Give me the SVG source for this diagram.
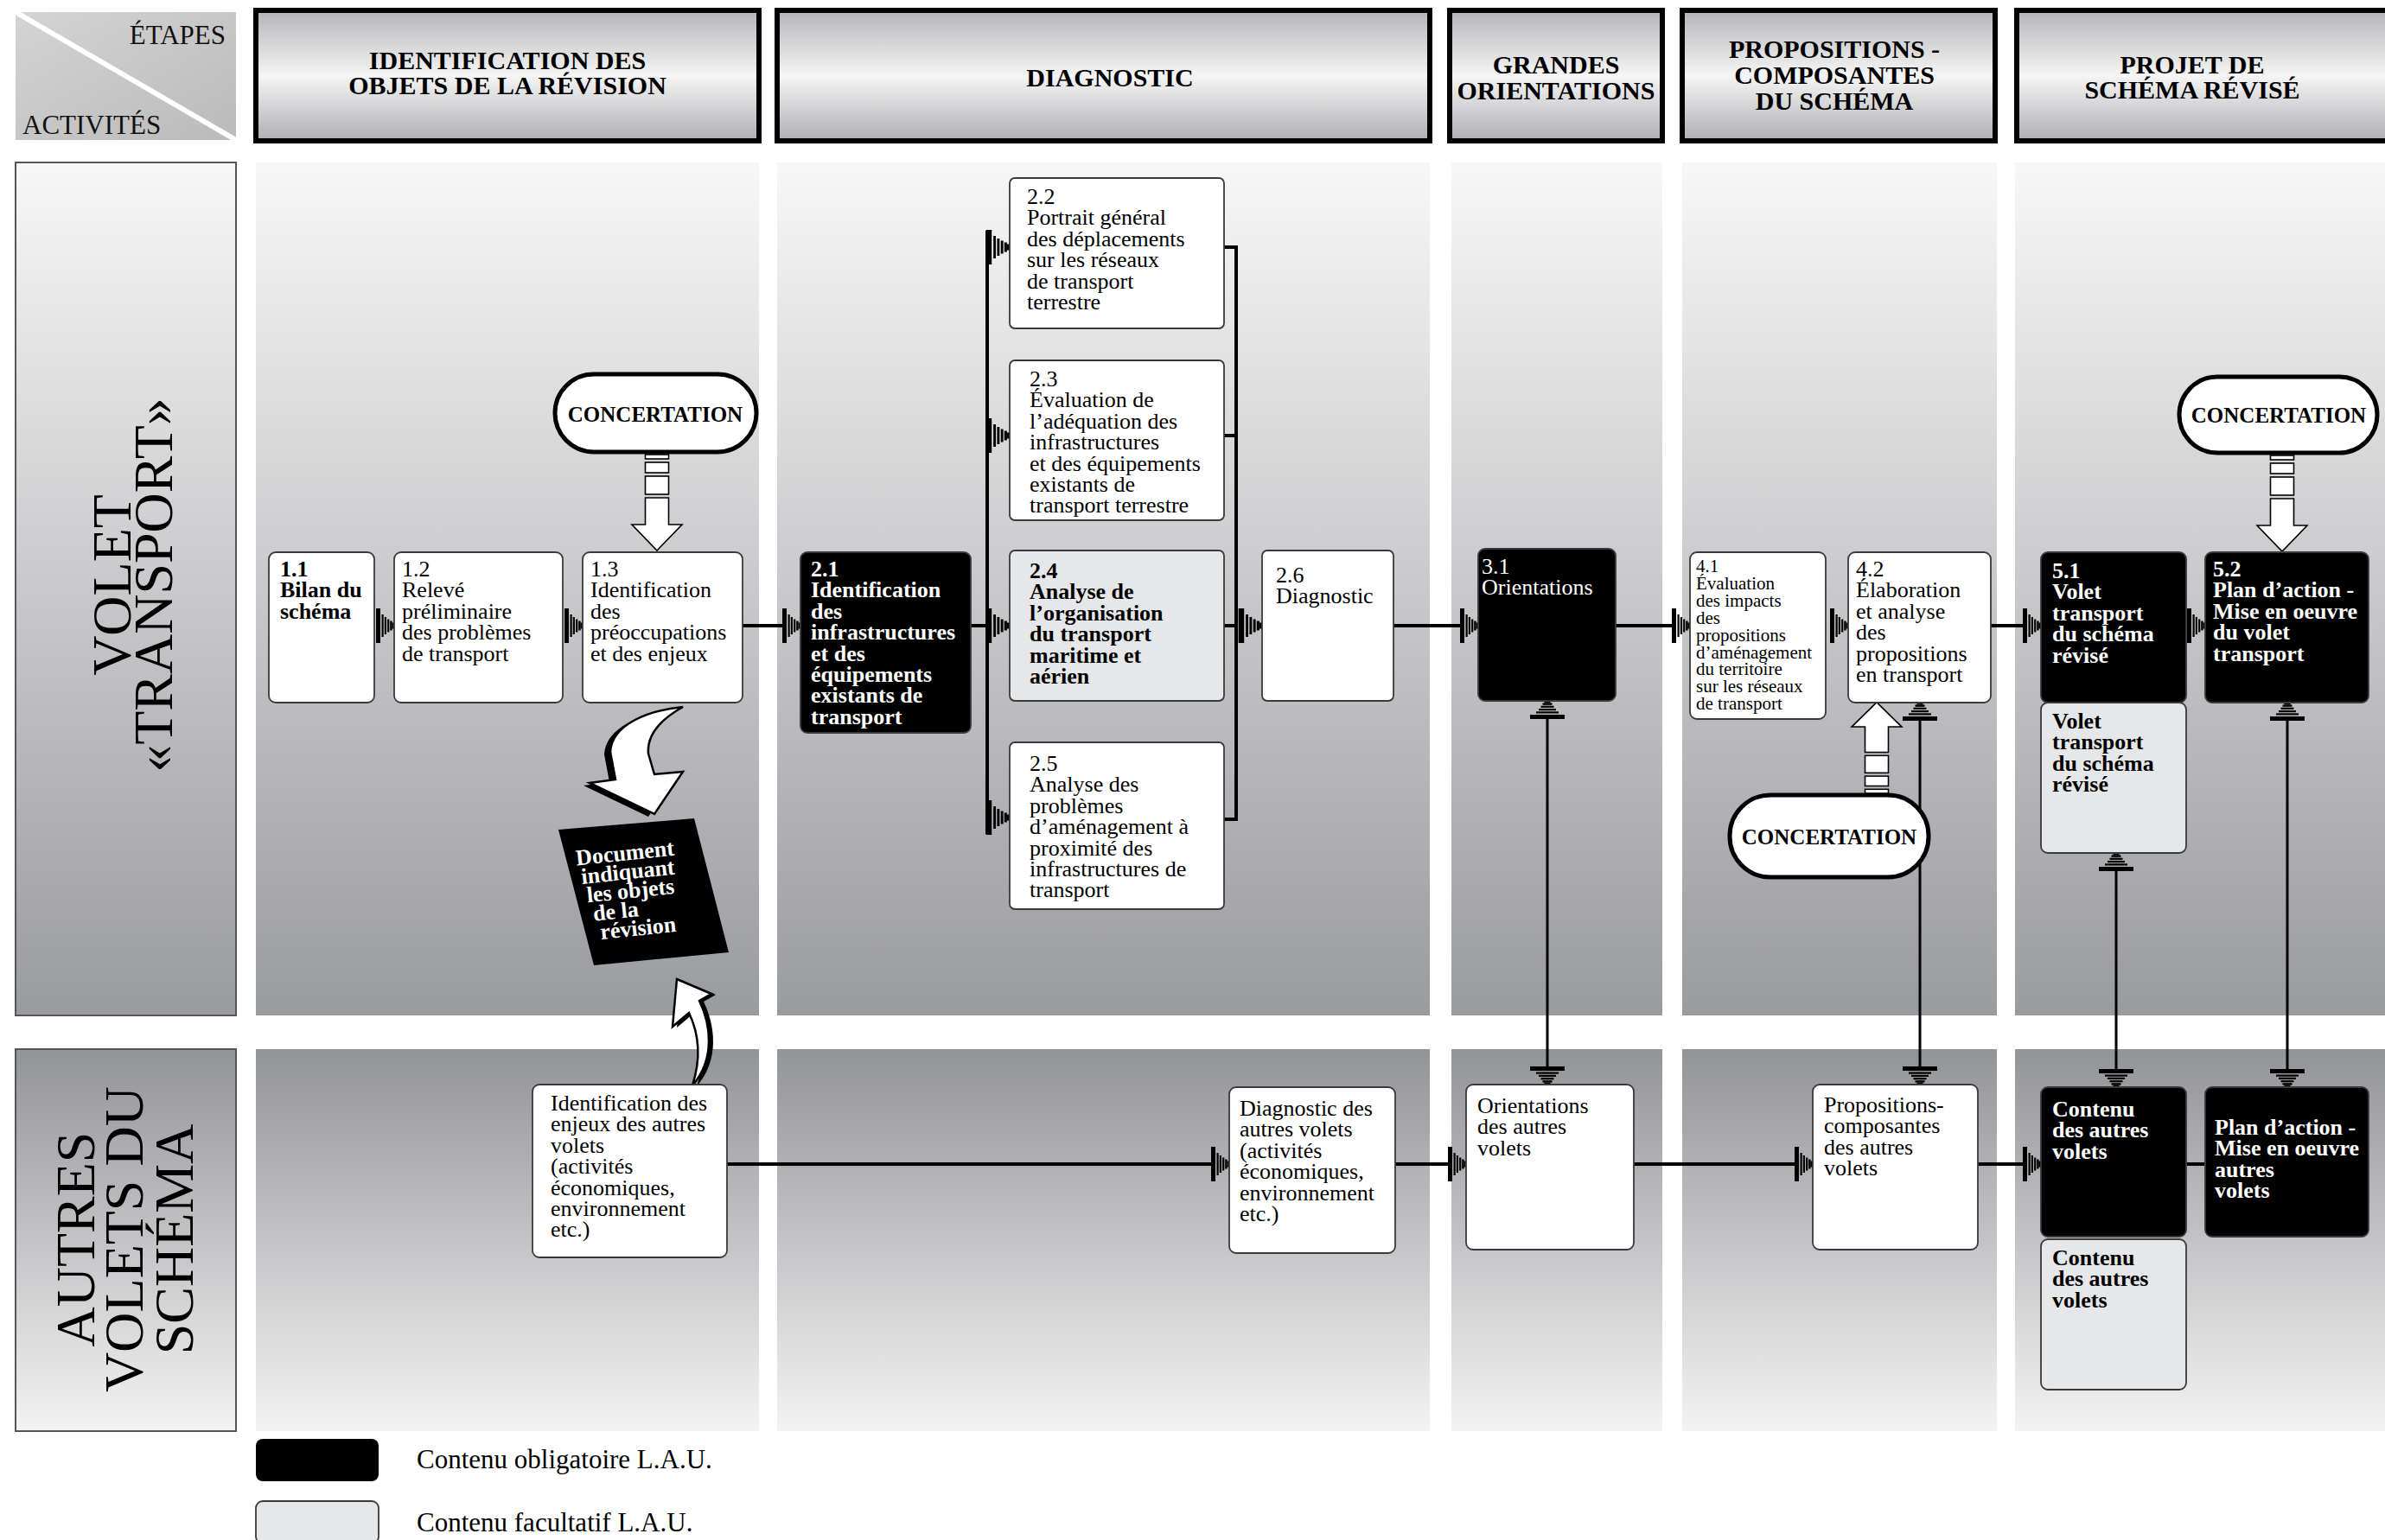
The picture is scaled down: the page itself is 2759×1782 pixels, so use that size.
<svg xmlns="http://www.w3.org/2000/svg" xmlns:xlink="http://www.w3.org/1999/xlink" width="2759" height="1782" viewBox="0 0 2759 1782">
<style>
.nt{font-family:"Liberation Serif",serif;font-size:26px;fill:#000}
.sm{font-size:21px}
.b{font-weight:bold}
.w{fill:#fff}
.box{stroke:#3a3a3a;stroke-width:1.8}
.white{fill:#fff}.black{fill:#000}.light{fill:#e6e7e8}
.ln{stroke:#000;stroke-width:4;fill:none}
.vln{stroke:#000;stroke-width:3;fill:none}
.hdr{font-family:"Liberation Serif",serif;font-weight:bold;font-size:30px;text-anchor:middle;fill:#000}
.hbox{fill:url(#hdrG);stroke:#000;stroke-width:6}
.lane{font-family:"Liberation Serif",serif;font-size:64px;text-anchor:middle;fill:#000}
.pill{fill:#fff;stroke:#000;stroke-width:5}
.pt{font-family:"Liberation Serif",serif;font-weight:bold;font-size:25px;text-anchor:middle}
.ba{fill:#fff;stroke:#000;stroke-width:1.6}
.leg{font-family:"Liberation Serif",serif;font-size:31px;fill:#000}
</style>
<defs>
<linearGradient id="hdrG" x1="0" y1="0" x2="0" y2="1"><stop offset="0" stop-color="#b3b4b7"/><stop offset="0.5" stop-color="#f5f5f5"/><stop offset="1" stop-color="#aeafb2"/></linearGradient>
<linearGradient id="topG" x1="0" y1="0" x2="0" y2="1"><stop offset="0" stop-color="#f7f7f7"/><stop offset="1" stop-color="#9a9b9f"/></linearGradient>
<linearGradient id="botG" x1="0" y1="0" x2="0" y2="1"><stop offset="0" stop-color="#939498"/><stop offset="1" stop-color="#f3f3f3"/></linearGradient>
<linearGradient id="cornG" x1="0" y1="0" x2="1" y2="1"><stop offset="0" stop-color="#d4d4d4"/><stop offset="1" stop-color="#bababa"/></linearGradient>
<g id="comb"><rect x="-21" y="-20" width="5" height="40"/><rect x="-14.5" y="-13" width="2.2" height="26"/><rect x="-11.2" y="-10" width="2.2" height="20"/><rect x="-7.9" y="-7.5" width="2.2" height="15"/><rect x="-4.8" y="-5.5" width="2.4" height="11"/><rect x="-2.5" y="-3.5" width="2.5" height="7"/></g>
<g id="barrow"><rect class="ba" x="-13.5" y="1" width="27" height="5"/><rect class="ba" x="-13.5" y="10" width="27" height="12"/><rect class="ba" x="-13.5" y="26" width="27" height="21"/><polygon class="ba" points="-13.5,51 13.5,51 13.5,82 29,82 0,112 -29,82 -13.5,82"/></g>
</defs>
<rect width="2759" height="1782" fill="#fff"/>

<g id="headers">
<g id="corner"><rect x="18" y="14" width="255" height="148" fill="url(#cornG)"/><line x1="18" y1="14" x2="273" y2="162" stroke="#fff" stroke-width="6"/>
<text x="261" y="51" font-family="Liberation Serif, serif" font-size="31" text-anchor="end" fill="#111">ÉTAPES</text>
<text x="26" y="155" font-family="Liberation Serif, serif" font-size="31" fill="#111">ACTIVITÉS</text></g>
<g id="h-ident"><rect class="hbox" x="296" y="12" width="582" height="151"/><text class="hdr" x="587" y="80">IDENTIFICATION DES</text><text class="hdr" x="587" y="109">OBJETS DE LA RÉVISION</text></g>
<g id="h-diag"><rect class="hbox" x="899" y="12" width="755" height="151"/><text class="hdr" x="1284" y="100">DIAGNOSTIC</text></g>
<g id="h-grandes"><rect class="hbox" x="1677" y="12" width="246" height="151"/><text class="hdr" x="1800" y="85">GRANDES</text><text class="hdr" x="1800" y="115">ORIENTATIONS</text></g>
<g id="h-prop"><rect class="hbox" x="1946" y="12" width="362" height="151"/><text class="hdr" x="2122" y="67">PROPOSITIONS -</text><text class="hdr" x="2122" y="97">COMPOSANTES</text><text class="hdr" x="2122" y="127">DU SCHÉMA</text></g>
<g id="h-projet"><rect class="hbox" x="2333" y="12" width="440" height="151"/><text class="hdr" x="2536" y="85">PROJET DE</text><text class="hdr" x="2536" y="114">SCHÉMA RÉVISÉ</text></g>
</g>

<g id="lanes">
<rect x="18" y="188" width="255" height="987" fill="url(#topG)" stroke="#555" stroke-width="2"/>
<rect x="18" y="1214" width="255" height="442" fill="url(#botG)" stroke="#555" stroke-width="2"/>
<text class="lane" transform="translate(151,677) rotate(-90)">VOLET</text>
<text class="lane" transform="translate(199,677) rotate(-90)">«TRANSPORT»</text>
<text class="lane" transform="translate(109,1434) rotate(-90)">AUTRES</text>
<text class="lane" transform="translate(165,1434) rotate(-90)">VOLETS DU</text>
<text class="lane" transform="translate(223,1434) rotate(-90)">SCHÉMA</text>
<g fill="url(#topG)">
<rect x="296" y="188" width="582" height="987"/><rect x="899" y="188" width="755" height="987"/><rect x="1679" y="188" width="244" height="987"/><rect x="1946" y="188" width="364" height="987"/><rect x="2331" y="188" width="428" height="987"/>
</g>
<g fill="url(#botG)">
<rect x="296" y="1214" width="582" height="442"/><rect x="899" y="1214" width="755" height="442"/><rect x="1679" y="1214" width="244" height="442"/><rect x="1946" y="1214" width="364" height="442"/><rect x="2331" y="1214" width="428" height="442"/>
</g>
</g>

<g id="connectors">
<use href="#comb" transform="translate(456,724)"/>
<use href="#comb" transform="translate(674,724)"/>
<line class="ln" x1="859" y1="724" x2="908" y2="724"/><use href="#comb" transform="translate(926,724)"/>
<line class="ln" x1="1123" y1="724" x2="1142" y2="724"/>
<line class="ln" x1="1142" y1="267" x2="1142" y2="965"/>
<use href="#comb" transform="translate(1168,286) scale(1.3,1)"/>
<use href="#comb" transform="translate(1168,504) scale(1.3,1)"/>
<use href="#comb" transform="translate(1168,724) scale(1.3,1)"/>
<use href="#comb" transform="translate(1168,946) scale(1.3,1)"/>
<line class="ln" x1="1416" y1="286" x2="1430" y2="286"/>
<line class="ln" x1="1416" y1="504" x2="1430" y2="504"/>
<line class="ln" x1="1416" y1="724" x2="1430" y2="724"/>
<line class="ln" x1="1416" y1="948" x2="1430" y2="948"/>
<line class="ln" x1="1430" y1="284" x2="1430" y2="950"/>
<use href="#comb" transform="translate(1460,724) scale(1.3,1)"/>
<line class="ln" x1="1612" y1="724" x2="1692" y2="724"/><use href="#comb" transform="translate(1710,724)"/>
<line class="ln" x1="1869" y1="724" x2="1937" y2="724"/><use href="#comb" transform="translate(1955,724)"/>
<use href="#comb" transform="translate(2138,724)"/>
<line class="ln" x1="2303" y1="724" x2="2343" y2="724"/><use href="#comb" transform="translate(2361,724)"/>
<use href="#comb" transform="translate(2551,724)"/>
<line class="vln" x1="1790" y1="829" x2="1790" y2="1237"/><use href="#comb" transform="translate(1790,811) rotate(-90)"/><use href="#comb" transform="translate(1790,1255) rotate(90)"/>
<line class="vln" x1="2221" y1="831" x2="2221" y2="1237"/><use href="#comb" transform="translate(2221,813) rotate(-90)"/><use href="#comb" transform="translate(2221,1255) rotate(90)"/>
<line class="vln" x1="2448" y1="1005" x2="2448" y2="1240"/><use href="#comb" transform="translate(2448,987) rotate(-90)"/><use href="#comb" transform="translate(2448,1258) rotate(90)"/>
<line class="vln" x1="2646" y1="831" x2="2646" y2="1240"/><use href="#comb" transform="translate(2646,813) rotate(-90)"/><use href="#comb" transform="translate(2646,1258) rotate(90)"/>
<line class="ln" x1="841" y1="1347" x2="1404" y2="1347"/><use href="#comb" transform="translate(1422,1347)"/>
<line class="ln" x1="1614" y1="1347" x2="1678" y2="1347"/><use href="#comb" transform="translate(1696,1347)"/>
<line class="ln" x1="1890" y1="1347" x2="2079" y2="1347"/><use href="#comb" transform="translate(2097,1347)"/>
<line class="ln" x1="2288" y1="1347" x2="2343" y2="1347"/><use href="#comb" transform="translate(2361,1347)"/>
<line class="ln" x1="2529" y1="1347" x2="2551" y2="1347"/>
<use href="#barrow" transform="translate(760,525)"/>
<use href="#barrow" transform="translate(2640,526)"/>
<use href="#barrow" transform="translate(2171,919) scale(1,-0.95)"/>
<g id="swoosh1"><path d="M790,818 C750,822 708,838 706,870 L712,902 L682,906 L757,942 L790,893 L757,896 L750,872 C748,850 765,832 790,818 Z" fill="#000" transform="translate(-7,3)"/><path d="M790,818 C750,822 708,838 706,870 L712,902 L682,906 L757,942 L790,893 L757,896 L750,872 C748,850 765,832 790,818 Z" fill="#fff" stroke="#000" stroke-width="2.5"/></g>
<g id="swoosh2"><path d="M783,1133 L823,1150 L809,1158 C822,1185 828,1225 801,1256 C812,1222 808,1195 797,1172 L778,1188 Z" fill="#000" transform="translate(5,1)"/><path d="M783,1133 L823,1150 L809,1158 C822,1185 828,1225 801,1256 C812,1222 808,1195 797,1172 L778,1188 Z" fill="#fff" stroke="#000" stroke-width="2.5"/></g>
</g>

<g id="concertation-1"><rect class="pill" x="642" y="433" width="233" height="90" rx="45"/><text class="pt" x="758" y="488">CONCERTATION</text></g>
<g id="concertation-2"><rect class="pill" x="2521" y="436" width="229" height="88" rx="44"/><text class="pt" x="2636" y="489">CONCERTATION</text></g>
<g id="concertation-3"><rect class="pill" x="2001" y="920" width="230" height="95" rx="47"/><text class="pt" x="2116" y="977">CONCERTATION</text></g>

<g id="n1-1"><rect class="box white" x="311" y="639" width="122" height="174" rx="8"/><text class="nt b" y="667" font-size="25"><tspan x="324">1.1</tspan><tspan x="324" dy="24.4">Bilan du</tspan><tspan x="324" dy="24.4">schéma</tspan></text></g>
<g id="n1-2"><rect class="box white" x="456" y="639" width="195" height="174" rx="8"/><text class="nt" y="667"><tspan x="465">1.2</tspan><tspan x="465" dy="24.4">Relevé</tspan><tspan x="465" dy="24.4">préliminaire</tspan><tspan x="465" dy="24.4">des problèmes</tspan><tspan x="465" dy="24.4">de transport</tspan></text></g>
<g id="n1-3"><rect class="box white" x="674" y="639" width="185" height="174" rx="8"/><text class="nt" y="667"><tspan x="683">1.3</tspan><tspan x="683" dy="24.4">Identification</tspan><tspan x="683" dy="24.4">des</tspan><tspan x="683" dy="24.4">préoccupations</tspan><tspan x="683" dy="24.4">et des enjeux</tspan></text></g>
<g id="document"><polygon points="646,960 803,947 843,1102 687,1117" fill="#000"/><g transform="rotate(-6 740 1035)"><text class="nt b w" x="671" y="994" font-size="25">Document</text><text class="nt b w" x="675" y="1016" font-size="25">indiquant</text><text class="nt b w" x="679" y="1038" font-size="25">les objets</text><text class="nt b w" x="684" y="1060" font-size="25">de la</text><text class="nt b w" x="690" y="1082" font-size="25">révision</text></g></g>

<g id="n2-1"><rect class="box black" x="926" y="639" width="197" height="209" rx="8"/><text class="nt b w" y="667" font-size="25"><tspan x="938">2.1</tspan><tspan x="938" dy="24.4">Identification</tspan><tspan x="938" dy="24.4">des</tspan><tspan x="938" dy="24.4">infrastructures</tspan><tspan x="938" dy="24.4">et des</tspan><tspan x="938" dy="24.4">équipements</tspan><tspan x="938" dy="24.4">existants de</tspan><tspan x="938" dy="24.4">transport</tspan></text></g>
<g id="n2-2"><rect class="box white" x="1168" y="206" width="248" height="174" rx="6"/><text class="nt" y="236"><tspan x="1188">2.2</tspan><tspan x="1188" dy="24.4">Portrait général</tspan><tspan x="1188" dy="24.4">des déplacements</tspan><tspan x="1188" dy="24.4">sur les réseaux</tspan><tspan x="1188" dy="24.4">de transport</tspan><tspan x="1188" dy="24.4">terrestre</tspan></text></g>
<g id="n2-3"><rect class="box white" x="1168" y="417" width="248" height="185" rx="6"/><text class="nt" y="447"><tspan x="1191">2.3</tspan><tspan x="1191" dy="24.4">Évaluation de</tspan><tspan x="1191" dy="24.4">l’adéquation des</tspan><tspan x="1191" dy="24.4">infrastructures</tspan><tspan x="1191" dy="24.4">et des équipements</tspan><tspan x="1191" dy="24.4">existants de</tspan><tspan x="1191" dy="24.4">transport terrestre</tspan></text></g>
<g id="n2-4"><rect class="box light" x="1168" y="637" width="248" height="174" rx="6"/><text class="nt b" y="669" font-size="25"><tspan x="1191">2.4</tspan><tspan x="1191" dy="24.4">Analyse de</tspan><tspan x="1191" dy="24.4">l’organisation</tspan><tspan x="1191" dy="24.4">du transport</tspan><tspan x="1191" dy="24.4">maritime et</tspan><tspan x="1191" dy="24.4">aérien</tspan></text></g>
<g id="n2-5"><rect class="box white" x="1168" y="859" width="248" height="193" rx="6"/><text class="nt" y="892"><tspan x="1191">2.5</tspan><tspan x="1191" dy="24.4">Analyse des</tspan><tspan x="1191" dy="24.4">problèmes</tspan><tspan x="1191" dy="24.4">d’aménagement à</tspan><tspan x="1191" dy="24.4">proximité des</tspan><tspan x="1191" dy="24.4">infrastructures de</tspan><tspan x="1191" dy="24.4">transport</tspan></text></g>
<g id="n2-6"><rect class="box white" x="1460" y="637" width="152" height="174" rx="6"/><text class="nt" y="674"><tspan x="1476">2.6</tspan><tspan x="1476" dy="24.4">Diagnostic</tspan></text></g>
<g id="n3-1"><rect class="box black" x="1710" y="635" width="159" height="176" rx="8"/><text class="nt w" y="664"><tspan x="1714">3.1</tspan><tspan x="1714" dy="24.4">Orientations</tspan></text></g>
<g id="n4-1"><rect class="box white" x="1955" y="639" width="157" height="193" rx="8"/><text class="nt sm" y="662"><tspan x="1962">4.1</tspan><tspan x="1962" dy="19.9">Évaluation</tspan><tspan x="1962" dy="19.9">des impacts</tspan><tspan x="1962" dy="19.9">des</tspan><tspan x="1962" dy="19.9">propositions</tspan><tspan x="1962" dy="19.9">d’aménagement</tspan><tspan x="1962" dy="19.9">du territoire</tspan><tspan x="1962" dy="19.9">sur les réseaux</tspan><tspan x="1962" dy="19.9">de transport</tspan></text></g>
<g id="n4-2"><rect class="box white" x="2138" y="639" width="165" height="174" rx="8"/><text class="nt" y="667"><tspan x="2147">4.2</tspan><tspan x="2147" dy="24.4">Élaboration</tspan><tspan x="2147" dy="24.4">et analyse</tspan><tspan x="2147" dy="24.4">des</tspan><tspan x="2147" dy="24.4">propositions</tspan><tspan x="2147" dy="24.4">en transport</tspan></text></g>
<g id="n5-1"><rect class="box black" x="2361" y="639" width="168" height="174" rx="8"/><text class="nt b w" y="669" font-size="25"><tspan x="2374">5.1</tspan><tspan x="2374" dy="24.4">Volet</tspan><tspan x="2374" dy="24.4">transport</tspan><tspan x="2374" dy="24.4">du schéma</tspan><tspan x="2374" dy="24.4">révisé</tspan></text></g>
<g id="n5-1b"><rect class="box light" x="2361" y="813" width="168" height="174" rx="8"/><text class="nt b" y="843" font-size="25"><tspan x="2374">Volet</tspan><tspan x="2374" dy="24.4">transport</tspan><tspan x="2374" dy="24.4">du schéma</tspan><tspan x="2374" dy="24.4">révisé</tspan></text></g>
<g id="n5-2"><rect class="box black" x="2551" y="639" width="189" height="174" rx="8"/><text class="nt b w" y="667" font-size="25"><tspan x="2560">5.2</tspan><tspan x="2560" dy="24.4">Plan d’action -</tspan><tspan x="2560" dy="24.4">Mise en oeuvre</tspan><tspan x="2560" dy="24.4">du volet</tspan><tspan x="2560" dy="24.4">transport</tspan></text></g>

<g id="b-ident"><rect class="box white" x="616" y="1255" width="225" height="200" rx="8"/><text class="nt" y="1285"><tspan x="637">Identification des</tspan><tspan x="637" dy="24.4">enjeux des autres</tspan><tspan x="637" dy="24.4">volets</tspan><tspan x="637" dy="24.4">(activités</tspan><tspan x="637" dy="24.4">économiques,</tspan><tspan x="637" dy="24.4">environnement</tspan><tspan x="637" dy="24.4">etc.)</tspan></text></g>
<g id="b-diag"><rect class="box white" x="1422" y="1258" width="192" height="192" rx="8"/><text class="nt" y="1291"><tspan x="1434">Diagnostic des</tspan><tspan x="1434" dy="24.4">autres volets</tspan><tspan x="1434" dy="24.4">(activités</tspan><tspan x="1434" dy="24.4">économiques,</tspan><tspan x="1434" dy="24.4">environnement</tspan><tspan x="1434" dy="24.4">etc.)</tspan></text></g>
<g id="b-orient"><rect class="box white" x="1696" y="1255" width="194" height="191" rx="8"/><text class="nt" y="1288"><tspan x="1709">Orientations</tspan><tspan x="1709" dy="24.4">des autres</tspan><tspan x="1709" dy="24.4">volets</tspan></text></g>
<g id="b-prop"><rect class="box white" x="2097" y="1255" width="191" height="191" rx="8"/><text class="nt" y="1287"><tspan x="2110">Propositions-</tspan><tspan x="2110" dy="24.4">composantes</tspan><tspan x="2110" dy="24.4">des autres</tspan><tspan x="2110" dy="24.4">volets</tspan></text></g>
<g id="b-contenu"><rect class="box black" x="2361" y="1258" width="168" height="173" rx="8"/><text class="nt b w" y="1292" font-size="25"><tspan x="2374">Contenu</tspan><tspan x="2374" dy="24.4">des autres</tspan><tspan x="2374" dy="24.4">volets</tspan></text></g>
<g id="b-contenu2"><rect class="box light" x="2361" y="1434" width="168" height="174" rx="8"/><text class="nt b" y="1464" font-size="25"><tspan x="2374">Contenu</tspan><tspan x="2374" dy="24.4">des autres</tspan><tspan x="2374" dy="24.4">volets</tspan></text></g>
<g id="b-plan"><rect class="box black" x="2551" y="1258" width="189" height="173" rx="8"/><text class="nt b w" y="1313" font-size="25"><tspan x="2562">Plan d’action -</tspan><tspan x="2562" dy="24.4">Mise en oeuvre</tspan><tspan x="2562" dy="24.4">autres</tspan><tspan x="2562" dy="24.4">volets</tspan></text></g>

<g id="legend">
<rect x="296" y="1665" width="142" height="49" rx="8" fill="#000"/>
<text class="leg" x="482" y="1699">Contenu obligatoire L.A.U.</text>
<rect x="296" y="1737" width="142" height="49" rx="8" fill="#e6e7e8" stroke="#3a3a3a" stroke-width="1.8"/>
<text class="leg" x="482" y="1772">Contenu facultatif L.A.U.</text>
</g>
</svg>
